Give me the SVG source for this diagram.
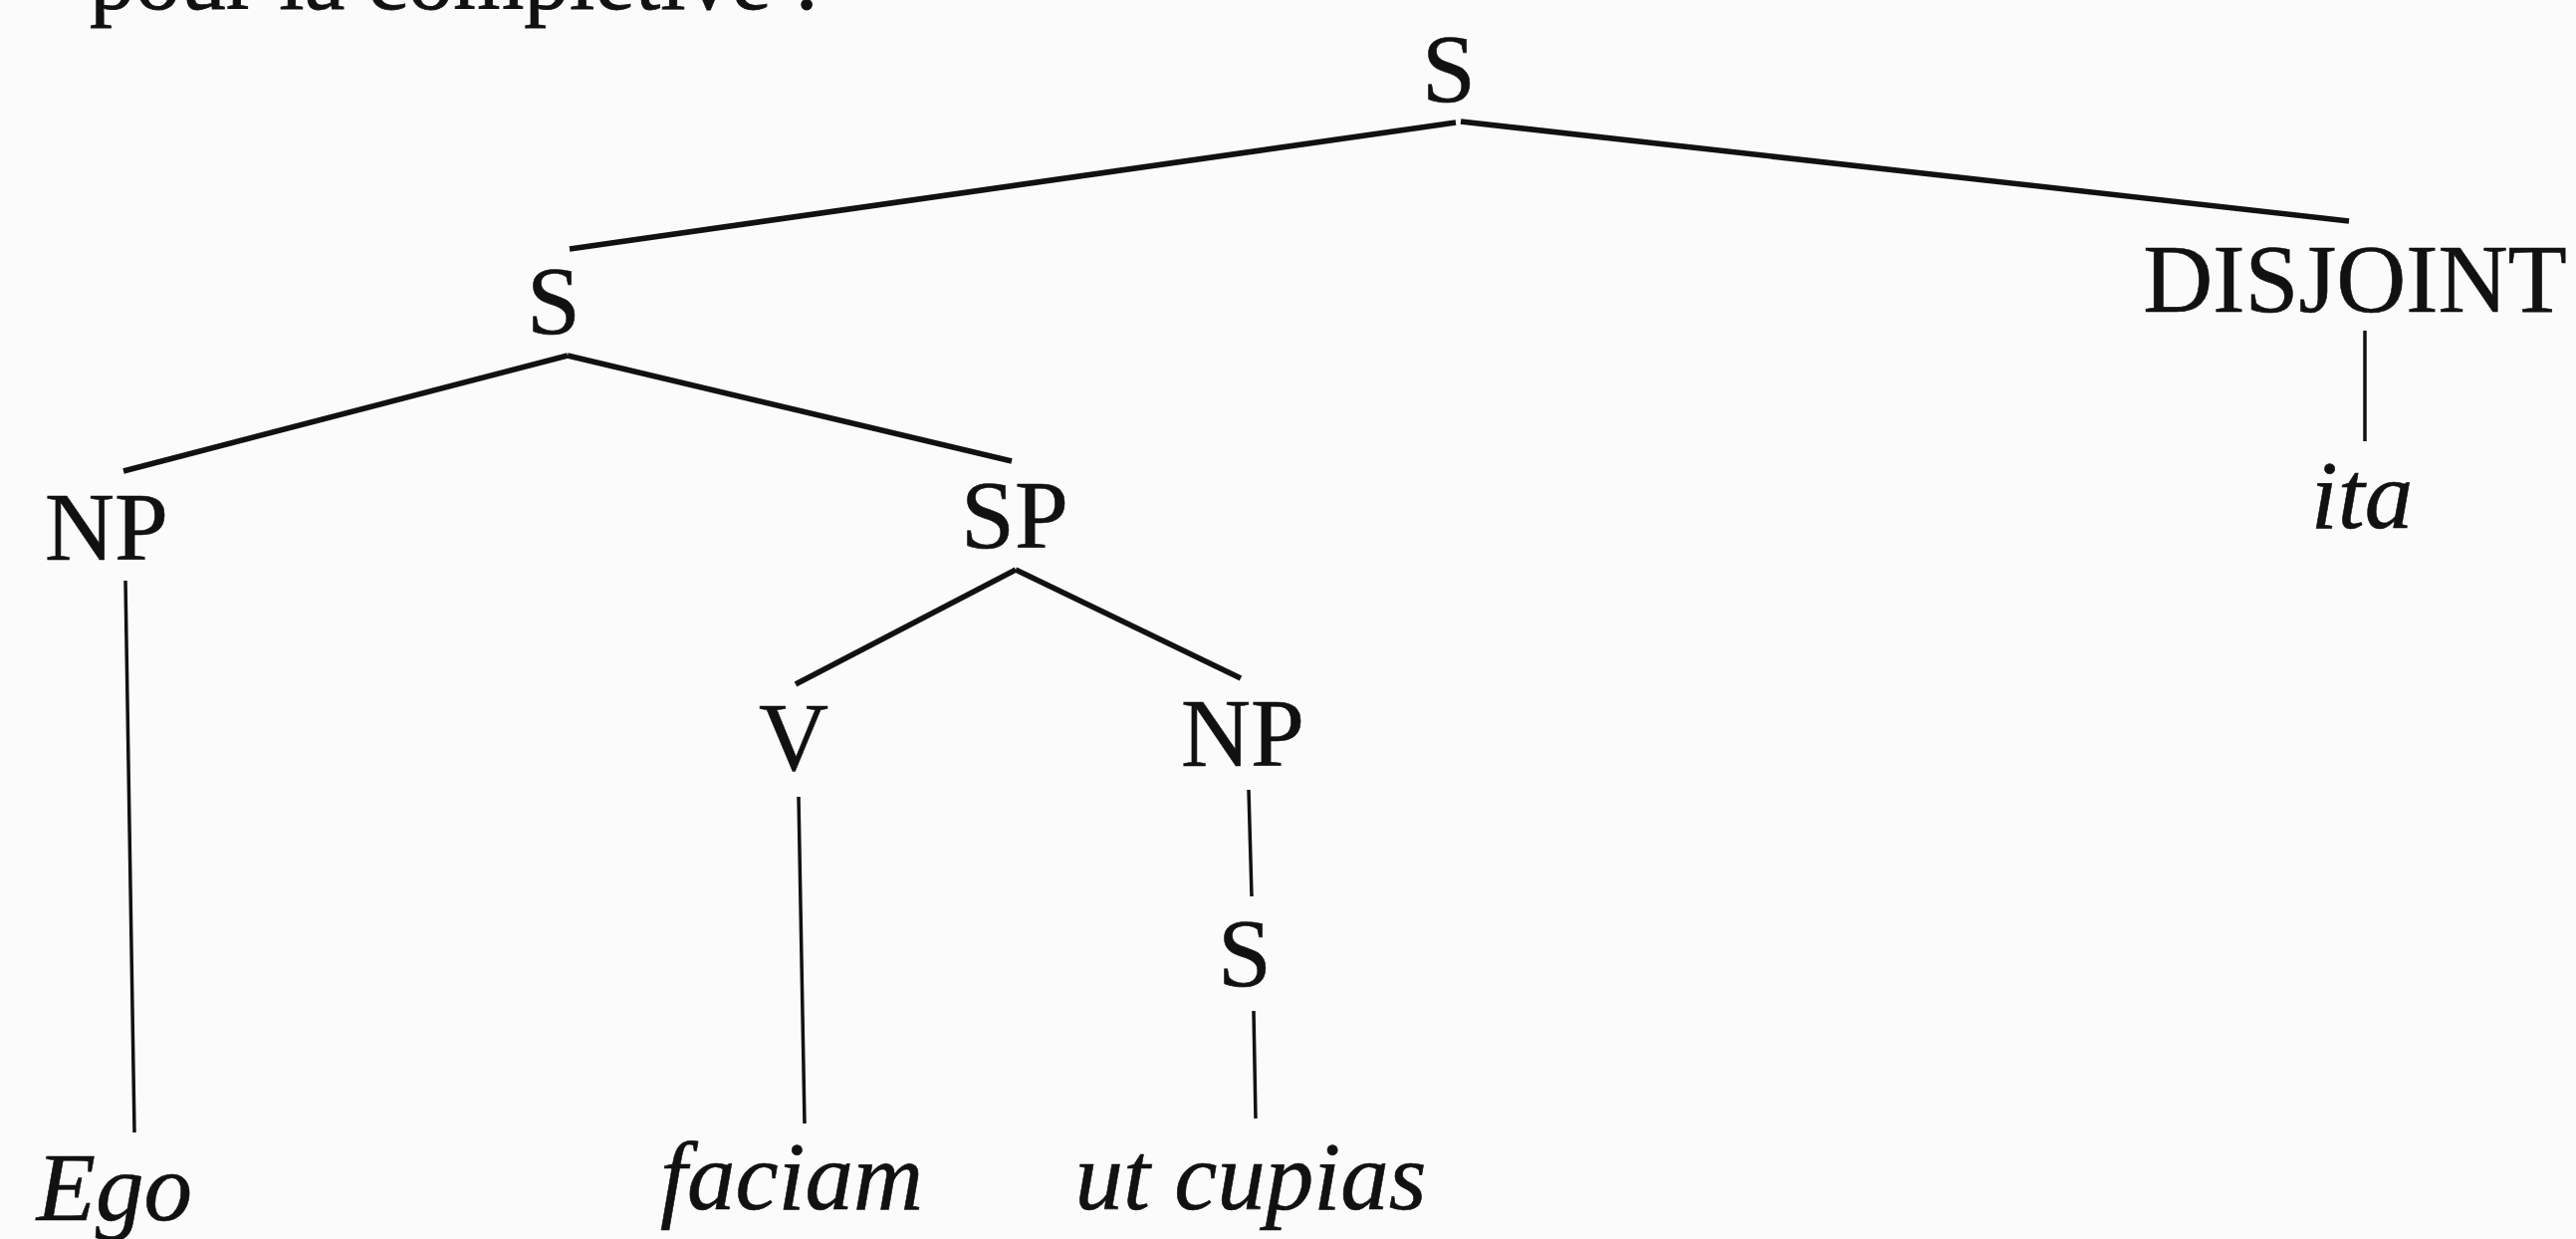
<svg xmlns="http://www.w3.org/2000/svg" width="2587" height="1244" viewBox="0 0 2587 1244">
  <style>
    .lbl { font-family: "Liberation Serif", "Times New Roman", serif; font-size: 97px; fill: #111; stroke: #111; stroke-width: 0.6; text-anchor: middle; }
    .it { font-style: italic; }
    .body { font-family: "Liberation Serif", "Times New Roman", serif; font-size: 92px; fill: #111; stroke: #111; stroke-width: 0.8; }
    .edge { stroke: #111; stroke-width: 5.5; stroke-linecap: butt; fill: none; }
    .vert { stroke: #111; stroke-width: 3.5; fill: none; }
  </style>
  <rect x="0" y="0" width="2587" height="1244" fill="#fbfbfb"/>
  <text class="body" x="90" y="9" textLength="733" lengthAdjust="spacingAndGlyphs">pour la complétive :</text>

  <g id="connectors">
    <line class="edge" x1="1462" y1="123" x2="572" y2="250"/>
    <line class="edge" x1="1467" y1="122" x2="2359" y2="222"/>
    <line class="edge" x1="570" y1="357" x2="124" y2="473"/>
    <line class="edge" x1="570" y1="357" x2="1016" y2="463"/>
    <line class="edge" x1="1020" y1="572" x2="799" y2="687"/>
    <line class="edge" x1="1020" y1="572" x2="1246" y2="681"/>
    <line class="vert" x1="126" y1="583" x2="135" y2="1137"/>
    <line class="vert" x1="802" y1="800" x2="808" y2="1128"/>
    <line class="vert" x1="1254" y1="793" x2="1257" y2="900"/>
    <line class="vert" x1="1259" y1="1015" x2="1261" y2="1123"/>
    <line class="vert" x1="2375" y1="332" x2="2375" y2="443"/>
  </g>

  <g id="n-S-root"><text class="lbl" x="1455" y="102">S</text></g>
  <g id="n-S-main"><text class="lbl" x="556" y="335">S</text></g>
  <g id="n-DISJOINT"><text class="lbl" x="2365" y="313">DISJOINT</text></g>
  <g id="n-ita"><text class="lbl it" x="2372" y="530">ita</text></g>
  <g id="n-NP-subj"><text class="lbl" x="107" y="562">NP</text></g>
  <g id="n-SP"><text class="lbl" x="1019" y="550">SP</text></g>
  <g id="n-V"><text class="lbl" x="797" y="773">V</text></g>
  <g id="n-NP-obj"><text class="lbl" x="1248" y="769">NP</text></g>
  <g id="n-S-sub"><text class="lbl" x="1250" y="990">S</text></g>
  <g id="n-Ego"><text class="lbl it" x="115" y="1225">Ego</text></g>
  <g id="n-faciam"><text class="lbl it" x="795" y="1214">faciam</text></g>
  <g id="n-ut-cupias"><text class="lbl it" x="1256" y="1214">ut cupias</text></g>
</svg>
